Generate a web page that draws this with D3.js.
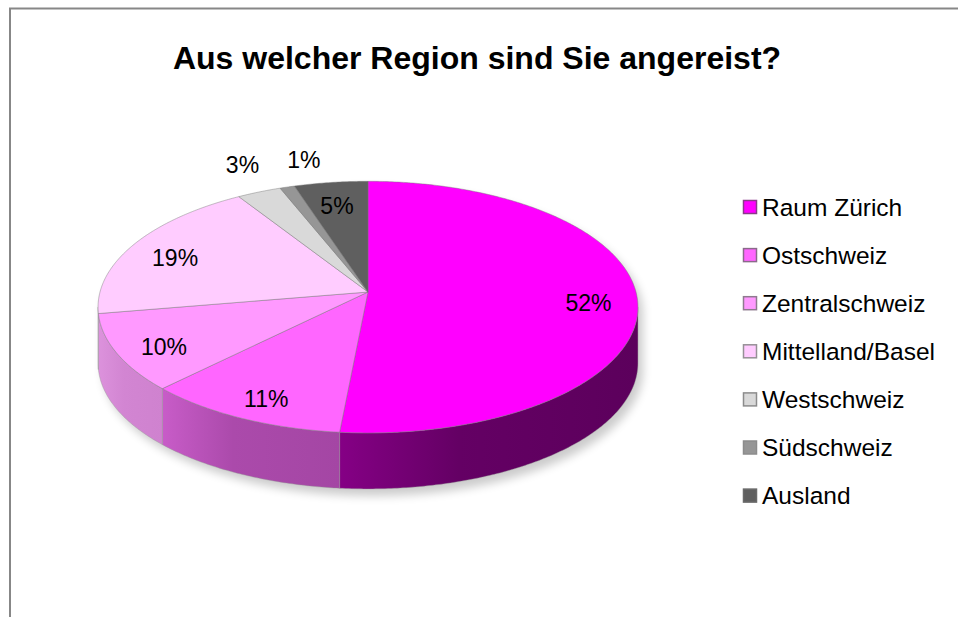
<!DOCTYPE html>
<html>
<head>
<meta charset="utf-8">
<script src="https://cdn.jsdelivr.net/npm/d3@7"></script>
<style>
  body { margin: 0; background: #fff; }
  svg { display: block; font-family: "Liberation Sans", Arial, sans-serif; }
</style>
</head>
<body>
<svg id="drawing_region"></svg>
<script>
// chart data
const title = 'Aus welcher Region sind Sie angereist?';
const regions = ['Raum Zürich', 'Ostschweiz', 'Zentralschweiz', 'Mittelland/Basel', 'Westschweiz', 'Südschweiz', 'Ausland'];
const shares = [52, 11, 10, 19, 3, 1, 5];
const shareLabels = ['52%', '11%', '10%', '19%', '3%', '1%', '5%'];

// styles
const topColors = ['#ff00ff', '#ff66ff', '#ff99ff', '#ffccff', '#d9d9d9', '#969696', '#5f5f5f'];
const sideColors = [
  ['#850085', '#5c005c'],
  ['#c85cc8', '#a446a4'],
  ['#dc92dc', '#cf82cf'],
  ['#ebb6eb', '#e6aee6'],
  ['#b8b8b8', '#a8a8a8'],
  ['#7a7a7a', '#707070'],
  ['#4a4a4a', '#404040']
];
const legendStroke = ['#8a3a8a', '#8a6a8a', '#8f7a8f', '#969096', '#8c8c8c', '#8c8c8c', '#6a6a6a'];

const config = {
  width: 958, height: 617,
  cx: 368, cy: 292, rx: 268, ry: 124, persp: 0.12, depth: 56
};

const svg = d3.select('#drawing_region').attr('width', config.width).attr('height', config.height);
const defs = svg.append('defs');

// perspective projection of a point on the pie disc (angle a, radius fraction f)
function proj(a, f = 1, dy = 0) {
  const w = 1 + config.persp * f * Math.cos(a);
  return [config.cx + config.rx * f * Math.sin(a) / w, config.cy - config.ry * f * Math.cos(a) / w + dy];
}
function sample(a0, a1) {
  const n = Math.max(2, Math.ceil(Math.abs(a1 - a0) / 0.01));
  return d3.range(n + 1).map(i => a0 + (a1 - a0) * i / n);
}
const line = d3.line();

const pie = d3.pie().sort(null).value(d => d)(shares);

// visible front wall range
const aL = Math.acos(-config.persp);
const aR = 2 * Math.PI - aL;

// shadow
const shadow = defs.append('filter').attr('id', 'shadow').attr('x', '-20%').attr('y', '-20%').attr('width', '140%').attr('height', '140%');
shadow.append('feGaussianBlur').attr('stdDeviation', 5);
const outline = sample(aR - 2 * Math.PI, aL).map(a => proj(a))
  .concat(sample(aL, aR).map(a => proj(a, 1, config.depth)));
svg.append('path')
  .attr('d', line(outline) + 'Z')
  .attr('transform', 'translate(5,7)')
  .attr('fill', '#000')
  .attr('opacity', 0.2)
  .attr('filter', 'url(#shadow)');

// side walls
const sides = svg.append('g');
pie.forEach((d, i) => {
  const s = Math.max(d.startAngle, aL), e = Math.min(d.endAngle, aR);
  if (e <= s) return;
  const gid = 'side' + i;
  const grad = defs.append('linearGradient').attr('id', gid).attr('x1', 0).attr('x2', 1).attr('y1', 0).attr('y2', 0);
  grad.append('stop').attr('offset', '0%').attr('stop-color', sideColors[i][0]);
  grad.append('stop').attr('offset', '40%').attr('stop-color', d3.interpolateRgb(sideColors[i][0], sideColors[i][1])(0.8));
  grad.append('stop').attr('offset', '100%').attr('stop-color', sideColors[i][1]);
  const pts = sample(s, e).map(a => proj(a)).concat(sample(e, s).map(a => proj(a, 1, config.depth)));
  sides.append('path')
    .attr('d', line(pts) + 'Z')
    .attr('fill', `url(#${gid})`)
    .attr('stroke', 'rgba(150,150,150,0.5)')
    .attr('stroke-width', 0.8);
});

// top faces
const tops = svg.append('g');
pie.forEach((d, i) => {
  const pts = [proj(0, 0)].concat(sample(d.startAngle, d.endAngle).map(a => proj(a)));
  tops.append('path')
    .attr('d', line(pts) + 'Z')
    .attr('fill', topColors[i])
    .attr('stroke', 'rgba(120,120,120,0.55)')
    .attr('stroke-width', 0.8);
});

// data labels: small slices go outside, neighbouring outside labels are pushed apart
const labels = svg.append('g').attr('font-size', 23).attr('fill', '#000');
pie.forEach((d, i) => {
  const mid = (d.startAngle + d.endAngle) / 2;
  const outside = shares[i] < 4;
  const pos = outside ? proj(mid, 1, -27) : proj(mid, 0.82, 6);
  let anchor = 'middle';
  if (outside) {
    if (i + 1 < shares.length && shares[i + 1] < 4) anchor = 'end';
    else if (i > 0 && shares[i - 1] < 4) anchor = 'start';
  }
  labels.append('text')
    .attr('x', pos[0]).attr('y', pos[1])
    .attr('dy', '0.35em')
    .attr('text-anchor', anchor)
    .text(shareLabels[i]);
});

// legend
const legend = svg.append('g').attr('transform', 'translate(743,207)');
regions.forEach((r, i) => {
  const row = legend.append('g').attr('transform', `translate(0,${i * 48.1})`);
  row.append('rect').attr('x', 0.5).attr('y', -6.5).attr('width', 13).attr('height', 13)
    .attr('fill', topColors[i]).attr('stroke', legendStroke[i]).attr('stroke-width', 1.5);
  row.append('text').attr('x', 19).attr('y', 0).attr('dy', '0.36em')
    .attr('font-size', 24.5).attr('fill', '#000').text(r);
});

// title
svg.append('text')
  .attr('x', 477).attr('y', 69)
  .attr('text-anchor', 'middle')
  .attr('font-size', 32).attr('font-weight', 'bold')
  .text(title);

// chart area border (top and left visible)
svg.append('path')
  .attr('d', 'M10,617V8.5H958')
  .attr('fill', 'none')
  .attr('stroke', '#878787')
  .attr('stroke-width', 2);
</script>
</body>
</html>
